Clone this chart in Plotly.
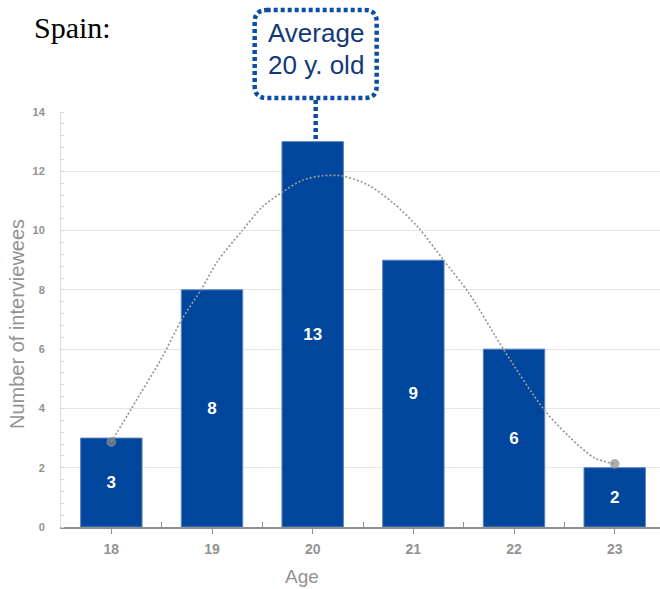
import plotly.graph_objects as go

# Interviewees by age (Spain)
ages = [18, 19, 20, 21, 22, 23]
counts = [3, 8, 13, 9, 6, 2]

# Smoothed distribution curve drawn over the bars
curve_x = [18, 18.2, 18.5, 18.7, 18.9, 19.05, 19.3, 19.5, 19.7, 19.9, 20.1,
           20.3, 20.55, 20.8, 21.05, 21.3, 21.55, 21.9, 22.3, 22.55, 22.8, 23]
curve_y = [2.87, 4.0, 5.7, 7.0, 8.05, 8.94, 10.0, 10.8, 11.3, 11.7, 11.85,
           11.84, 11.54, 10.93, 10.1, 9.0, 7.9, 5.97, 3.95, 3.04, 2.33, 2.13]

average_age = 20
y_ticks = [0, 2, 4, 6, 8, 10, 12, 14]

W, H = 660, 589
M_L, M_R, M_T, M_B = 61, 0, 112, 62
PW, PH = W - M_L - M_R, H - M_T - M_B
X_RANGE = [17.5, 23.45]
Y_RANGE = [0, 14]

BAR = "#00469C"
GRAY = "#939393"
FONT = "Liberation Sans, Arial, sans-serif"


def px_x(px):
    return (px - M_L) / PW


def px_y(py):
    return (H - M_B - py) / PH


def data_x(v):
    return (v - X_RANGE[0]) / (X_RANGE[1] - X_RANGE[0])


def data_y(v):
    return (v - Y_RANGE[0]) / (Y_RANGE[1] - Y_RANGE[0])


fig = go.Figure()

fig.add_trace(go.Bar(
    x=ages, y=counts, width=0.61,
    marker=dict(color=BAR, line=dict(color="#5b82bd", width=1)),
    texttemplate="%{y}", textposition="inside", insidetextanchor="middle",
    textangle=0,
    textfont=dict(color="white", size=17, family=FONT, weight="bold"),
    hoverinfo="x+y", showlegend=False,
))

n = len(curve_x)
fig.add_trace(go.Scatter(
    x=curve_x, y=curve_y, mode="lines+markers",
    line=dict(color="#999999", width=1.7, dash="2px,2px", shape="spline", smoothing=0.8),
    marker=dict(size=[9] + [0] * (n - 2) + [9], color="#8c8c8c"),
    hoverinfo="skip", showlegend=False,
))

# Rounded dotted callout box above the average-age bar
cx = M_L + data_x(average_age) * PW + 3
bx0, bx1 = cx - 61, cx + 61
by0, by1 = 10, 98
r = 12
box_path = (
    f"M {px_x(bx0 + r)},{px_y(by0)} L {px_x(bx1 - r)},{px_y(by0)} "
    f"Q {px_x(bx1)},{px_y(by0)} {px_x(bx1)},{px_y(by0 + r)} "
    f"L {px_x(bx1)},{px_y(by1 - r)} "
    f"Q {px_x(bx1)},{px_y(by1)} {px_x(bx1 - r)},{px_y(by1)} "
    f"L {px_x(bx0 + r)},{px_y(by1)} "
    f"Q {px_x(bx0)},{px_y(by1)} {px_x(bx0)},{px_y(by1 - r)} "
    f"L {px_x(bx0)},{px_y(by0 + r)} "
    f"Q {px_x(bx0)},{px_y(by0)} {px_x(bx0 + r)},{px_y(by0)} Z"
)
callout_line = dict(color="#0B4EA2", width=4.5, dash="4px,3px")
fig.add_shape(type="path", path=box_path, xref="paper", yref="paper",
              line=callout_line, layer="above")
fig.add_shape(type="line", xref="paper", yref="paper",
              x0=px_x(cx), x1=px_x(cx), y0=px_y(by1 + 2),
              y1=data_y(counts[ages.index(average_age)]),
              line=callout_line, layer="above")

annotations = [
    dict(text="Average", x=px_x(cx), y=px_y(33)),
    dict(text=f"{average_age} y. old", x=px_x(cx), y=px_y(65)),
]
for a in annotations:
    a.update(xref="paper", yref="paper", showarrow=False, xanchor="center",
             yanchor="middle", font=dict(family=FONT, size=26, color="#12397a"))

annotations += [
    dict(text="Spain:", x=px_x(32), y=px_y(28), xref="paper", yref="paper",
         showarrow=False, xanchor="left", yanchor="middle",
         font=dict(family="Liberation Serif, Times New Roman, serif", size=30, color="black")),
    dict(text="Number of interviewees", x=px_x(17), y=px_y(324), xref="paper", yref="paper",
         showarrow=False, xanchor="center", yanchor="middle", textangle=-90,
         font=dict(family=FONT, size=20, color=GRAY)),
    dict(text="Age", x=px_x(302), y=px_y(576), xref="paper", yref="paper",
         showarrow=False, xanchor="center", yanchor="middle",
         font=dict(family=FONT, size=19, color=GRAY)),
]

fig.update_layout(
    width=W, height=H,
    margin=dict(l=M_L, r=M_R, t=M_T, b=M_B, pad=0),
    paper_bgcolor="white", plot_bgcolor="white",
    font=dict(family=FONT),
    annotations=annotations,
    xaxis=dict(
        range=X_RANGE, tickvals=ages, ticktext=[str(a) for a in ages],
        showgrid=False, zeroline=False,
        showline=True, linecolor="#8f8f8f", linewidth=2,
        ticks="outside", ticklen=5, tickcolor="#8f8f8f", tickwidth=1,
        ticklabelstandoff=3,
        tickfont=dict(size=14, color=GRAY, weight="bold"),
        minor=dict(tickvals=[a + 0.5 for a in ages[:-1]], ticks="inside",
                   ticklen=5, tickcolor="#8f8f8f", showgrid=False),
    ),
    yaxis=dict(
        range=Y_RANGE, tickvals=y_ticks,
        showgrid=True, gridcolor="#e6e6e6", gridwidth=1, zeroline=False,
        showline=True, linecolor="#dddddd", linewidth=1,
        ticks="", ticklabelstandoff=13,
        tickfont=dict(size=11, color=GRAY, weight="bold"),
        minor=dict(dtick=0.4, tick0=0, ticks="inside", ticklen=3,
                   tickcolor="#d8d8d8", showgrid=False),
    ),
)

fig.write_html("out.html")
